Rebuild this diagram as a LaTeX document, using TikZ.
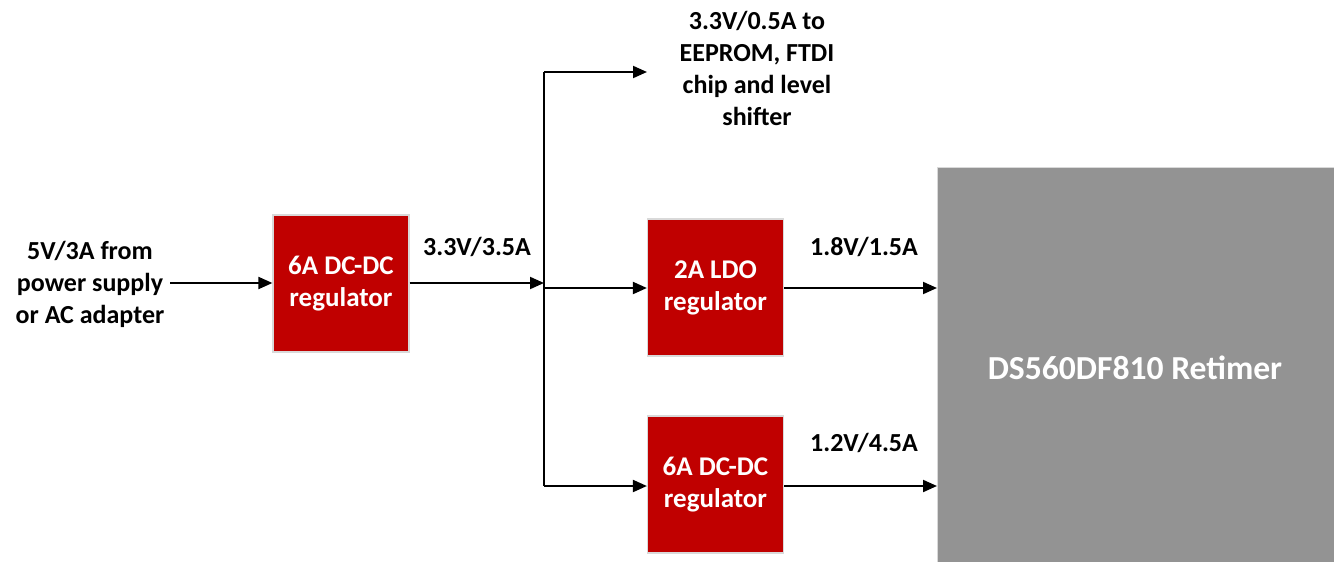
\documentclass[tikz,border=0pt]{standalone}
\usepackage{fontspec}
\setmainfont{Carlito}
\usetikzlibrary{arrows.meta}
\definecolor{boxred}{HTML}{C00000}
\definecolor{boxedge}{HTML}{D9D9D9}
\definecolor{retgray}{HTML}{939393}
\begin{document}
\begin{tikzpicture}[x=0.5pt,y=-0.5pt,
  regbox/.style={draw=boxedge,line width=0.6pt,fill=boxred,text=white,font=\bfseries\fontsize{13.5}{16}\selectfont,
    minimum width=68pt,minimum height=68.5pt,inner sep=0pt,align=center},
  lbl/.style={font=\bfseries\fontsize{13}{16}\selectfont,align=center,inner sep=0pt},
  conn/.style={line width=1pt,-{Triangle[length=7pt,width=6pt]}},
  wire/.style={line width=1pt}]
\useasboundingbox (0,0) rectangle (1334,562);
\node[draw=boxedge,line width=0.6pt,fill=retgray,minimum width=199pt,minimum height=200pt,inner sep=0pt,anchor=north west] (ret) at (937,167) {};
\node[text=white,font=\bfseries\fontsize{16.8}{20}\selectfont] (rettxt) at (1135,368) {DS560DF810 Retimer};
\node[regbox] (b1) at (341,283.5) {6A DC-DC\\regulator};
\node[regbox] (b2) at (715.5,287.5) {2A LDO\\regulator};
\node[regbox] (b3) at (715.5,484.5) {6A DC-DC\\regulator};
\node[lbl] (in) at (90,284) {5V/3A from\\power supply\\or AC adapter};
\node[lbl] (top) at (757,68) {3.3V/0.5A to\\EEPROM, FTDI\\chip and level\\shifter};
\node[lbl] (l1) at (477,247) {3.3V/3.5A};
\node[lbl] (l2) at (864,247) {1.8V/1.5A};
\node[lbl] (l3) at (864,443) {1.2V/4.5A};
\coordinate (jt) at (544,72);
\coordinate (jm) at (544,283);
\coordinate (jb) at (544,486);
\coordinate (tt) at (647,72);
\coordinate (inend) at (170,283);
\draw[conn] (inend) -- (inend -| b1.west);
\draw[conn] (b1.east |- jm) -- (jm);
\draw[wire] (jt) -- (jb);
\draw[conn] (jt) -- (tt);
\draw[conn] (544,288) -- (b2.west |- 0,288);
\draw[conn] (jb) -- (b3.west |- jb);
\draw[conn] (b2.east |- 0,288) -- (ret.west |- 0,288);
\draw[conn] (b3.east |- jb) -- (ret.west |- jb);
\end{tikzpicture}
\end{document}
